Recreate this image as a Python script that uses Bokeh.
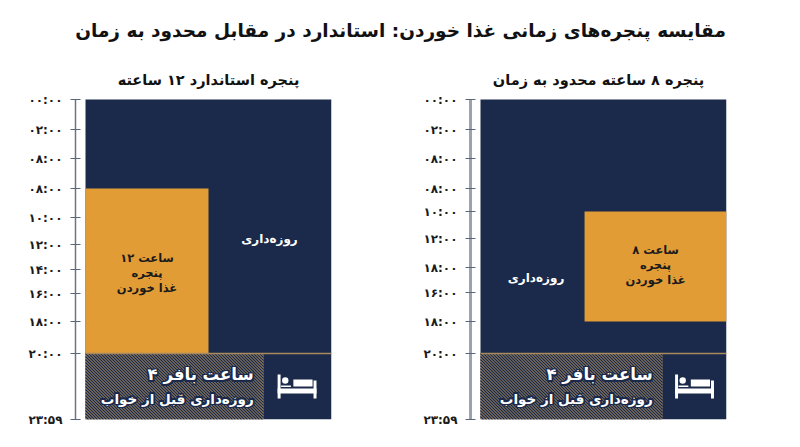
from bokeh.plotting import figure
from bokeh.layouts import column, row
from bokeh.models import FixedTicker, Range1d
from bokeh.core.properties import value
from bokeh.embed import file_html
from bokeh.resources import INLINE

FONT = "DejaVu Sans"
NAVY = "#1b2a4b"
ORANGE = "#e29c36"

main_title = "مقایسه پنجره‌های زمانی غذا خوردن: استاندارد در مقابل محدود به زمان"
titles = ["پنجره استاندارد ۱۲ ساعته", "پنجره ۸ ساعته محدود به زمان"]
tick_labels_a = ["۰۰:۰۰", "۰۲:۰۰", "۰۸:۰۰", "۰۸:۰۰", "۱۰:۰۰", "۱۲:۰۰", "۱۴:۰۰", "۱۶:۰۰", "۱۸:۰۰", "۲۰:۰۰", "۲۳:۵۹"]
tick_labels_b = ["۰۰:۰۰", "۰۲:۰۰", "۰۸:۰۰", "۰۸:۰۰", "۱۰:۰۰", "۱۲:۰۰", "۱۸:۰۰", "۱۶:۰۰", "۱۸:۰۰", "۲۰:۰۰", "۲۳:۵۹"]
# the source axis is not linear: values read along it, top to bottom
tick_values_a = [0, 30, 59, 89, 118, 145, 170, 194, 222, 254, 320]
tick_values_b = [0, 30, 59, 89, 112, 139, 168, 193, 222, 254, 320]
axis_end = 320
buffer_start = 254
# eating window: share of width (from, to), axis (from, to)
eat_x_a = (0, 50)
eat_y_a = (89, 254)
eat_x_b = (42.3, 100)
eat_y_b = (112, 222)
hatch_right_a = 72.4
hatch_right_b = 74.0
eat_lines_a = ["۱۲ ساعت", "پنجره", "غذا خوردن"]
eat_lines_b = ["۸ ساعت", "پنجره", "غذا خوردن"]
fast_label = "روزه‌داری"
buffer_head = "۴ ساعت بافر"
buffer_sub = "روزه‌داری قبل از خواب"

PX = 2.46  # screen pixels per unit of panel width


def hatch(p, right):
    """Fine diagonal stripes, clipped to the buffer box (lower left to upper right)."""
    w = right * PX
    h = axis_end - buffer_start
    xs, ys = [], []
    s = 3.0
    while s < w + h:
        x0, y0 = (s, 0.0) if s <= w else (w, s - w)
        x1, y1 = (0.0, s) if s <= h else (s - h, h)
        xs.append([x0 / PX, x1 / PX])
        ys.append([axis_end - y0, axis_end - y1])
        s += 3.0
    p.multi_line(xs=xs, ys=ys, line_color=NAVY, line_width=1.3)


def bed(p, cx, cy):
    """Small white bed icon, built from bars around a centre in panel units."""
    w = 7.9
    boxes = [
        (cx - w, cx - w + 1.2, cy - 12, cy + 12),
        (cx + w - 1.2, cx + w, cy - 6, cy + 12),
        (cx - w, cx + w, cy + 2, cy + 7),
        (cx - 1.5, cx + w - 1.6, cy - 7, cy),
        (cx - 6.5, cx - 2.5, cy - 1, cy + 0.5),
    ]
    for l, r, t, b in boxes:
        p.quad(left=[l], right=[r], top=[t], bottom=[b], color="white", line_color=None)
    p.circle(x=[cx - 4.8], y=[cy - 6], radius=1.3, color="white", line_color=None)


def txt(p, x, y, s, size, color, align="center", bold=False):
    p.text(x=[x], y=[y], text=[s], text_color=color, text_align=align, text_baseline="middle",
           text_font=value(FONT), text_font_size=f"{size}px",
           text_font_style="bold" if bold else "normal")


def halo_txt(p, x, y, s, size):
    for dx, dy in [(-1, 0), (1, 0), (0, -1), (0, 1), (-1, -1), (1, 1), (-1, 1), (1, -1)]:
        txt(p, x + dx * 1.5 / PX, y + dy * 1.5, s, size, NAVY, "right", True)
    txt(p, x, y, s, size, "white", "right", True)


def panel(title, title_x, ticks, labels, eat_x, eat_y, hatch_right, eat_lines, eat_cy, fast_xy,
          width, bed_x, axis_color, axis_width):
    left_border = 75
    p = figure(width=width, height=381, output_backend="svg", toolbar_location=None,
               x_range=Range1d(-4.065, 100), y_range=Range1d(axis_end, -41),
               min_border_left=left_border, min_border_right=width - left_border - 256,
               min_border_top=0, min_border_bottom=20, x_axis_type=None)
    p.grid.visible = False
    p.outline_line_color = None
    ax = p.yaxis[0]
    ax.bounds = (0, axis_end)
    ax.ticker = FixedTicker(ticks=ticks)
    ax.major_label_overrides = dict(zip(ticks, labels))
    ax.major_tick_in = 5
    ax.major_tick_out = 5
    ax.minor_tick_line_color = None
    ax.major_tick_line_color = "#5b667a"
    ax.axis_line_color = axis_color
    ax.axis_line_width = axis_width
    ax.major_label_text_font = FONT
    ax.major_label_text_font_size = "12px"
    ax.major_label_text_font_style = "bold"
    ax.major_label_text_color = "#1a1a1a"
    ax.major_label_standoff = 8

    p.quad(left=[0], right=[100], top=[0], bottom=[axis_end], color=NAVY, line_color=None)
    p.quad(left=[eat_x[0]], right=[eat_x[1]], top=[eat_y[0]], bottom=[eat_y[1]], color=ORANGE, line_color=None)
    p.quad(left=[0], right=[hatch_right], top=[buffer_start], bottom=[axis_end],
           fill_color="#a88c62", line_color=None)
    hatch(p, hatch_right)
    p.line(x=[0, 100], y=[buffer_start, buffer_start], line_color="#a98a5c", line_width=1.5)

    cx = (eat_x[0] + eat_x[1]) / 2
    for i, s in enumerate(eat_lines):
        txt(p, cx, eat_cy + i * 15, s, 11.5, "#1a1a1a", bold=True)
    txt(p, fast_xy[0], fast_xy[1], fast_label, 12, "white", bold=True)
    halo_txt(p, hatch_right - 4, 275, buffer_head, 16.5)
    halo_txt(p, hatch_right - 4, 299, buffer_sub, 13.5)
    bed(p, bed_x, 287)
    txt(p, title_x, -20, title, 14.5, "#111111", bold=True)
    return p


header = figure(width=787, height=58, output_backend="svg", toolbar_location=None,
                x_range=Range1d(0, 787), y_range=Range1d(0, 58), x_axis_type=None, y_axis_type=None,
                min_border=0)
header.grid.visible = False
header.outline_line_color = None
txt(header, 400, 28, main_title, 18.5, "#111111", bold=True)

a = panel(titles[0], 50, tick_values_a, tick_labels_a, eat_x_a, eat_y_a, hatch_right_a, eat_lines_a,
          158, (74.8, 139), 395, 86, "#6b7588", 1.5)
b = panel(titles[1], 48, tick_values_b, tick_labels_b, eat_x_b, eat_y_b, hatch_right_b, eat_lines_b,
          150, (22.6, 178), 392, 87, "#9aa3b0", 3)
page = column(header, row(a, b, spacing=0), spacing=0)
open("out.html", "w").write(file_html(page, INLINE))
